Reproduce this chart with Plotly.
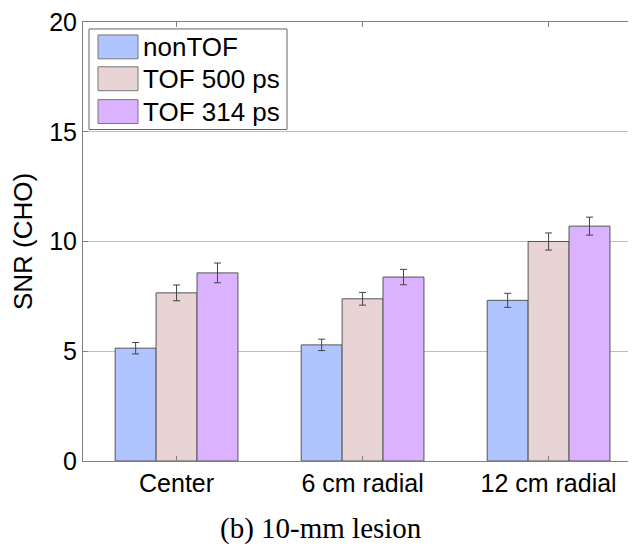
import plotly.graph_objects as go

categories = ["Center", "6 cm radial", "12 cm radial"]
series_names = ["nonTOF", "TOF 500 ps", "TOF 314 ps"]
nontof = [5.14, 5.29, 7.32]
nontof_err = [0.26, 0.26, 0.32]
tof500 = [7.66, 7.39, 10.0]
tof500_err = [0.36, 0.29, 0.39]
tof314 = [8.57, 8.38, 10.70]
tof314_err = [0.45, 0.35, 0.41]
yticks = [0, 5, 10, 15, 20]
caption = "(b) 10-mm lesion"
ytitle = "SNR (CHO)"

colors = ["#b0c4ff", "#e8d4d4", "#dab2ff"]
values = [nontof, tof500, tof314]
errs = [nontof_err, tof500_err, tof314_err]

# page has an 8px body margin; work in window pixel coords and offset
OFF = 8
W, H = 636 - OFF, 546 - OFF
L, R, T, B = 83, 636, 20, 461  # plot area in window pixels

fig = go.Figure()
for name, v, e, c in zip(series_names, values, errs, colors):
    fig.add_trace(go.Bar(
        x=list(range(len(categories))), y=v, name=name,
        marker=dict(color=c, line=dict(color="#555555", width=1)),
        error_y=dict(type="data", array=e, color="#444444", thickness=1, width=3.5),
        showlegend=False,
    ))

def px(x):
    return (x - L) / (R - L)

def py(y):
    return (B - y) / (B - T)

shapes = []
annotations = []
shapes.append(dict(type="rect", xref="paper", yref="paper",
                   x0=px(89), x1=px(287), y0=py(128), y1=py(27),
                   line=dict(color="#666666", width=1), fillcolor="white", layer="above"))
row_centers = [45, 77, 110]
for name, c, yc in zip(series_names, colors, row_centers):
    shapes.append(dict(type="rect", xref="paper", yref="paper",
                       x0=px(98), x1=px(138), y0=py(yc + 12), y1=py(yc - 12),
                       line=dict(color="#777777", width=1), fillcolor=c, layer="above"))
    annotations.append(dict(text=name, xref="paper", yref="paper", x=px(141), y=py(yc),
                            xanchor="left", yanchor="middle", showarrow=False,
                            font=dict(family="Liberation Sans, Arial", size=26, color="black")))

annotations.append(dict(text=caption, xref="paper", yref="paper", x=px(321), y=py(529),
                        xanchor="center", yanchor="middle", showarrow=False,
                        font=dict(family="Liberation Serif, Times New Roman", size=29, color="black")))

fig.update_layout(
    width=W, height=H,
    margin=dict(l=L - OFF, r=W - (R - OFF), t=T - OFF, b=H - (B - OFF), pad=0),
    paper_bgcolor="white", plot_bgcolor="white",
    barmode="group", bargap=0.34, bargroupgap=0,
    shapes=shapes, annotations=annotations,
    font=dict(family="Liberation Sans, Arial", size=25, color="black"),
    xaxis=dict(
        tickmode="array", tickvals=list(range(len(categories))), ticktext=categories,
        range=[-0.503, 2.47], showgrid=False, zeroline=False,
        showline=True, linecolor="#808080", linewidth=1, mirror="allticks",
        ticks="inside", ticklen=5, tickcolor="#808080",
        tickfont=dict(size=25, color="black"),
    ),
    yaxis=dict(
        range=[0, 20], tickvals=yticks, showgrid=True, gridcolor="#bdbdbd", gridwidth=1,
        zeroline=False, showline=True, linecolor="#808080", linewidth=1,
        ticks="inside", ticklen=5, tickcolor="#808080",
        ticklabeloverflow="allow",
        tickfont=dict(size=25, color="black"),
        title=dict(text=ytitle, font=dict(size=26, color="black"), standoff=12),
    ),
)

fig.write_html("out.html")
